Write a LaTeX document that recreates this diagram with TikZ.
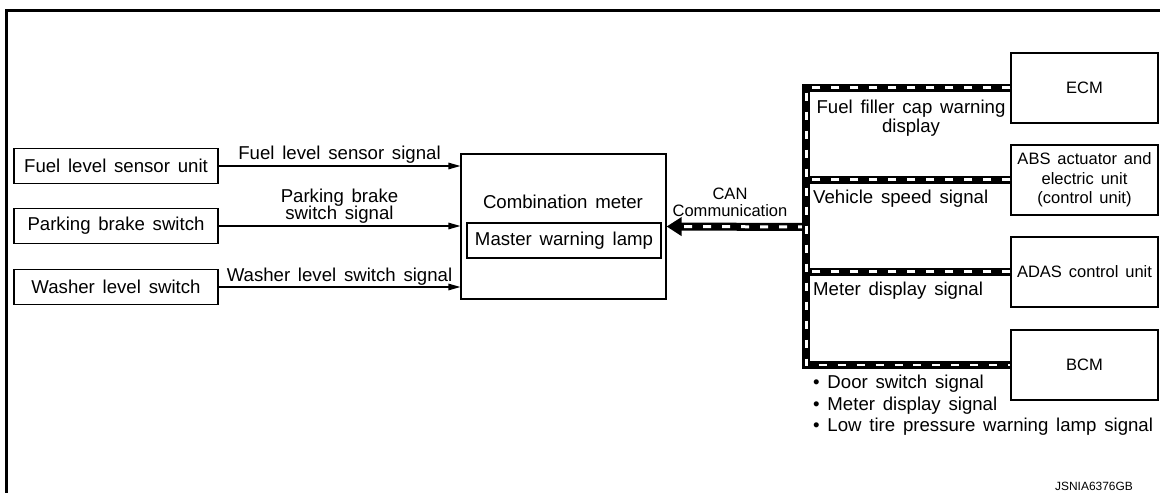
\documentclass[tikz,border=0pt]{standalone}
\usepackage{fontspec}
\setmainfont{Liberation Sans}[WordSpace=1.5]
\usetikzlibrary{arrows.meta}
\newcommand\tightlines{\lineskiplimit=-10pt\relax}

\begin{document}
\begin{tikzpicture}[x=0.02cm,y=-0.02cm,font=\fontsize{10.6}{9.6}\selectfont\tightlines,
  box/.style={draw,line width=0.7pt,inner sep=0pt,minimum width=4.08cm,minimum height=0.7cm},
  ubox/.style={draw,line width=0.7pt,inner sep=0pt,minimum width=2.94cm,minimum height=1.4cm,
    align=center,font=\fontsize{9.4}{11.1}\selectfont},
  sig/.style={line width=0.7pt,-{Triangle[length=0.24cm,width=0.13cm]}},
  bus/.style={line width=0.16cm,postaction={draw=white,line width=0.06cm,dash pattern=on 0.16cm off 0.22cm}}]
  \useasboundingbox (0,0) rectangle (1160,493);
  \draw[line width=0.06cm] (1160,10.5) -- (6.5,10.5) -- (6.5,493);

  % switches and sensor
  \node[box] (fuel) at (116,166) {Fuel level sensor unit};
  \node[box] (park) at (116,226) {Parking brake switch};
  \node[box] (wash) at (116,287) {Washer level switch};

  % combination meter
  \node[draw,line width=0.7pt,minimum width=4.1cm,minimum height=2.9cm] (meter) at (563.5,226.5) {};
  \node (metertxt) at (563,202) {Combination meter};
  \node[box,minimum width=3.88cm] (lamp) at (564,240.5) {Master warning lamp};

  \draw[sig] (fuel) -- (fuel -| meter.west) node[midway,above=-2pt] {Fuel level sensor signal};
  \draw[sig] (park) -- (park -| meter.west) node[midway,above=-2pt,align=center] {Parking brake\\switch signal};
  \draw[sig] (wash) -- (wash -| meter.west) node[midway,above=-3pt] {Washer level switch signal};

  % control units on CAN
  \node[ubox] (ecm) at (1084.5,88) {ECM};
  \node[ubox] (abs) at (1084.5,180) {ABS actuator and\\electric unit\\(control unit)};
  \node[ubox] (adas) at (1084.5,272) {ADAS control unit};
  \node[ubox] (bcm) at (1084.5,365) {BCM};

  \coordinate (bt) at (806,88);
  \coordinate (bb) at (806,365);
  \coordinate (ja) at (810,180);
  \coordinate (jd) at (810,272);
  \coordinate (jc) at (806,227);

  \draw[bus] (abs.west) -- (ja);
  \draw[bus] (adas.west) -- (jd);
  \draw[line width=0.16cm,-{Triangle[length=0.3cm,width=0.36cm]}] (jc) -- (meter.east);
  \draw[white,line width=0.06cm,dash pattern=on 0.16cm off 0.22cm] (jc) -- ([xshift=0.34cm]meter.east);
  \draw[bus] (ecm.west) -- (bt) -- (bb) -- (bcm.west);

  \node[align=center,font=\fontsize{9.4}{9.7}\selectfont] (canlbl) at (730,202) {CAN\\Communication};
  \node[align=center,font=\fontsize{10.6}{10.8}\selectfont] (ecmlbl) at (911,118) {Fuel filler cap warning\\display};
  \node[anchor=west] (abslbl) at (807,199) {Vehicle speed signal};
  \node[anchor=west] (adaslbl) at (807,291) {Meter display signal};
  \node[anchor=west,align=left,font=\fontsize{10.6}{12.2}\selectfont] (bcmlbl) at (807,405.5)
    {• Door switch signal\\• Meter display signal\\• Low tire pressure warning lamp signal};

  \node[font=\fontsize{6.8}{8}\selectfont] (code) at (1094,486) {JSNIA6376GB};
\end{tikzpicture}
\end{document}
